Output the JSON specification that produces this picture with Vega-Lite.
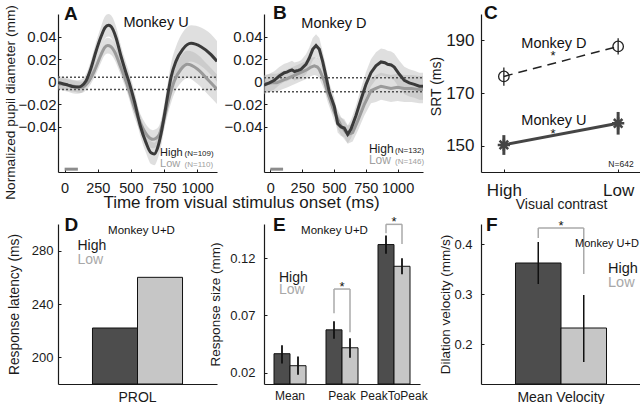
{
  "$schema": "https://vega.github.io/schema/vega-lite/v6.json",
  "background": "white",
  "padding": {"left": 3, "top": 3, "right": 0, "bottom": 0},
  "config": {
    "font": "Liberation Sans",
    "view": {"stroke": null},
    "axis": {"grid": false, "domainColor": "#1a1a1a", "domainWidth": 1.2, "tickColor": "#1a1a1a", "tickSize": -3, "labelColor": "#1a1a1a", "titleColor": "#1a1a1a", "titleFontWeight": "normal", "labelFlush": false, "labelOverlap": false}
  },
  "resolve": {"scale": {"xOffset": "independent", "x": "independent", "y": "independent", "color": "independent"}},
  "datasets": {
    "pupilA": [
      {"cond":"High","t":-50,"v":-0.001,"lo":-0.007,"hi":0.005},
      {"cond":"High","t":-20,"v":-0.0015,"lo":-0.0075,"hi":0.0045},
      {"cond":"High","t":25,"v":-0.003,"lo":-0.009,"hi":0.003},
      {"cond":"High","t":70,"v":-0.0045,"lo":-0.0105,"hi":0.0015},
      {"cond":"High","t":100,"v":-0.0047,"lo":-0.0107,"hi":0.0013},
      {"cond":"High","t":124,"v":-0.004,"lo":-0.010,"hi":0.002},
      {"cond":"High","t":161,"v":0.0006,"lo":-0.0054,"hi":0.0066},
      {"cond":"High","t":199,"v":0.012,"lo":0.005,"hi":0.019},
      {"cond":"High","t":237,"v":0.027,"lo":0.019,"hi":0.035},
      {"cond":"High","t":275,"v":0.040,"lo":0.031,"hi":0.049},
      {"cond":"High","t":305,"v":0.048,"lo":0.038,"hi":0.058},
      {"cond":"High","t":330,"v":0.050,"lo":0.040,"hi":0.060},
      {"cond":"High","t":350,"v":0.049,"lo":0.039,"hi":0.059},
      {"cond":"High","t":388,"v":0.039,"lo":0.029,"hi":0.049},
      {"cond":"High","t":425,"v":0.0228,"lo":0.0138,"hi":0.0318},
      {"cond":"High","t":463,"v":0.008,"lo":-0.001,"hi":0.017},
      {"cond":"High","t":488,"v":-0.001,"lo":-0.010,"hi":0.008},
      {"cond":"High","t":526,"v":-0.017,"lo":-0.026,"hi":-0.008},
      {"cond":"High","t":571,"v":-0.039,"lo":-0.048,"hi":-0.030},
      {"cond":"High","t":614,"v":-0.054,"lo":-0.063,"hi":-0.045},
      {"cond":"High","t":652,"v":-0.063,"lo":-0.073,"hi":-0.053},
      {"cond":"High","t":677,"v":-0.064,"lo":-0.074,"hi":-0.054},
      {"cond":"High","t":702,"v":-0.0585,"lo":-0.0685,"hi":-0.0485},
      {"cond":"High","t":727,"v":-0.0466,"lo":-0.0576,"hi":-0.0356},
      {"cond":"High","t":752,"v":-0.0304,"lo":-0.0414,"hi":-0.0194},
      {"cond":"High","t":777,"v":-0.0127,"lo":-0.0237,"hi":-0.0017},
      {"cond":"High","t":803,"v":0.004,"lo":-0.008,"hi":0.016},
      {"cond":"High","t":840,"v":0.018,"lo":0.005,"hi":0.031},
      {"cond":"High","t":891,"v":0.0287,"lo":0.0137,"hi":0.0437},
      {"cond":"High","t":954,"v":0.034,"lo":0.018,"hi":0.050},
      {"cond":"High","t":1029,"v":0.031,"lo":0.014,"hi":0.048},
      {"cond":"High","t":1105,"v":0.024,"lo":0.006,"hi":0.042},
      {"cond":"High","t":1150,"v":0.018,"lo":0.000,"hi":0.036},
      {"cond":"Low","t":-50,"v":-0.002,"lo":-0.007,"hi":0.003},
      {"cond":"Low","t":-20,"v":-0.002,"lo":-0.007,"hi":0.003},
      {"cond":"Low","t":25,"v":-0.003,"lo":-0.008,"hi":0.002},
      {"cond":"Low","t":70,"v":-0.004,"lo":-0.009,"hi":0.001},
      {"cond":"Low","t":124,"v":-0.005,"lo":-0.010,"hi":0.000},
      {"cond":"Low","t":174,"v":-0.001,"lo":-0.006,"hi":0.004},
      {"cond":"Low","t":224,"v":0.0095,"lo":0.0035,"hi":0.0155},
      {"cond":"Low","t":275,"v":0.024,"lo":0.017,"hi":0.031},
      {"cond":"Low","t":300,"v":0.030,"lo":0.023,"hi":0.037},
      {"cond":"Low","t":325,"v":0.032,"lo":0.025,"hi":0.039},
      {"cond":"Low","t":350,"v":0.031,"lo":0.024,"hi":0.038},
      {"cond":"Low","t":375,"v":0.027,"lo":0.020,"hi":0.034},
      {"cond":"Low","t":425,"v":0.0124,"lo":0.0054,"hi":0.0194},
      {"cond":"Low","t":476,"v":-0.004,"lo":-0.011,"hi":0.003},
      {"cond":"Low","t":526,"v":-0.023,"lo":-0.031,"hi":-0.015},
      {"cond":"Low","t":576,"v":-0.0378,"lo":-0.0458,"hi":-0.0298},
      {"cond":"Low","t":627,"v":-0.048,"lo":-0.056,"hi":-0.040},
      {"cond":"Low","t":665,"v":-0.051,"lo":-0.059,"hi":-0.043},
      {"cond":"Low","t":690,"v":-0.050,"lo":-0.058,"hi":-0.042},
      {"cond":"Low","t":715,"v":-0.0466,"lo":-0.0546,"hi":-0.0386},
      {"cond":"Low","t":752,"v":-0.032,"lo":-0.041,"hi":-0.023},
      {"cond":"Low","t":790,"v":-0.014,"lo":-0.024,"hi":-0.004},
      {"cond":"Low","t":828,"v":0.0006,"lo":-0.0104,"hi":0.0116},
      {"cond":"Low","t":878,"v":0.011,"lo":-0.001,"hi":0.023},
      {"cond":"Low","t":928,"v":0.0154,"lo":0.0034,"hi":0.0274},
      {"cond":"Low","t":1004,"v":0.011,"lo":-0.002,"hi":0.024},
      {"cond":"Low","t":1080,"v":0.002,"lo":-0.011,"hi":0.015},
      {"cond":"Low","t":1150,"v":-0.0067,"lo":-0.0197,"hi":0.0063}
    ],
    "pupilB": [
      {"cond":"High","t":-50,"v":-0.003,"lo":-0.011,"hi":0.005},
      {"cond":"High","t":-8,"v":-0.001,"lo":-0.009,"hi":0.007},
      {"cond":"High","t":31,"v":0.0012,"lo":-0.0068,"hi":0.0092},
      {"cond":"High","t":70,"v":0.005,"lo":-0.003,"hi":0.013},
      {"cond":"High","t":110,"v":0.008,"lo":0.000,"hi":0.016},
      {"cond":"High","t":130,"v":0.0085,"lo":0.0005,"hi":0.0165},
      {"cond":"High","t":149,"v":0.0095,"lo":0.0015,"hi":0.0175},
      {"cond":"High","t":170,"v":0.0105,"lo":0.0025,"hi":0.0185},
      {"cond":"High","t":190,"v":0.009,"lo":0.001,"hi":0.017},
      {"cond":"High","t":202,"v":0.0095,"lo":0.0015,"hi":0.0175},
      {"cond":"High","t":220,"v":0.010,"lo":0.002,"hi":0.018},
      {"cond":"High","t":241,"v":0.011,"lo":0.003,"hi":0.019},
      {"cond":"High","t":280,"v":0.0154,"lo":0.0064,"hi":0.0244},
      {"cond":"High","t":306,"v":0.021,"lo":0.012,"hi":0.030},
      {"cond":"High","t":333,"v":0.0287,"lo":0.0187,"hi":0.0387},
      {"cond":"High","t":359,"v":0.032,"lo":0.022,"hi":0.042},
      {"cond":"High","t":385,"v":0.0287,"lo":0.0187,"hi":0.0387},
      {"cond":"High","t":411,"v":0.018,"lo":0.009,"hi":0.027},
      {"cond":"High","t":437,"v":0.005,"lo":-0.004,"hi":0.014},
      {"cond":"High","t":463,"v":-0.009,"lo":-0.017,"hi":-0.001},
      {"cond":"High","t":503,"v":-0.022,"lo":-0.030,"hi":-0.014},
      {"cond":"High","t":529,"v":-0.037,"lo":-0.045,"hi":-0.029},
      {"cond":"High","t":555,"v":-0.040,"lo":-0.048,"hi":-0.032},
      {"cond":"High","t":581,"v":-0.041,"lo":-0.049,"hi":-0.033},
      {"cond":"High","t":608,"v":-0.0466,"lo":-0.0546,"hi":-0.0386},
      {"cond":"High","t":634,"v":-0.042,"lo":-0.050,"hi":-0.034},
      {"cond":"High","t":673,"v":-0.030,"lo":-0.039,"hi":-0.021},
      {"cond":"High","t":713,"v":-0.0156,"lo":-0.0256,"hi":-0.0056},
      {"cond":"High","t":752,"v":-0.0023,"lo":-0.0133,"hi":0.0087},
      {"cond":"High","t":791,"v":0.008,"lo":-0.004,"hi":0.020},
      {"cond":"High","t":830,"v":0.014,"lo":0.002,"hi":0.026},
      {"cond":"High","t":870,"v":0.0175,"lo":0.0055,"hi":0.0295},
      {"cond":"High","t":900,"v":0.0168,"lo":0.0048,"hi":0.0288},
      {"cond":"High","t":922,"v":0.0154,"lo":0.0034,"hi":0.0274},
      {"cond":"High","t":950,"v":0.0148,"lo":0.0028,"hi":0.0268},
      {"cond":"High","t":974,"v":0.013,"lo":0.001,"hi":0.025},
      {"cond":"High","t":1014,"v":0.0066,"lo":-0.0054,"hi":0.0186},
      {"cond":"High","t":1053,"v":0.0012,"lo":-0.0108,"hi":0.0132},
      {"cond":"High","t":1092,"v":-0.001,"lo":-0.013,"hi":0.011},
      {"cond":"High","t":1132,"v":-0.0023,"lo":-0.0143,"hi":0.0097},
      {"cond":"High","t":1171,"v":-0.004,"lo":-0.016,"hi":0.008},
      {"cond":"High","t":1200,"v":-0.004,"lo":-0.016,"hi":0.008},
      {"cond":"Low","t":-50,"v":-0.002,"lo":-0.010,"hi":0.006},
      {"cond":"Low","t":10,"v":-0.001,"lo":-0.009,"hi":0.007},
      {"cond":"Low","t":50,"v":-0.001,"lo":-0.009,"hi":0.007},
      {"cond":"Low","t":90,"v":0.001,"lo":-0.007,"hi":0.009},
      {"cond":"Low","t":136,"v":0.003,"lo":-0.005,"hi":0.011},
      {"cond":"Low","t":175,"v":0.005,"lo":-0.003,"hi":0.013},
      {"cond":"Low","t":215,"v":0.007,"lo":-0.001,"hi":0.015},
      {"cond":"Low","t":255,"v":0.009,"lo":0.001,"hi":0.017},
      {"cond":"Low","t":294,"v":0.011,"lo":0.003,"hi":0.019},
      {"cond":"Low","t":320,"v":0.013,"lo":0.005,"hi":0.021},
      {"cond":"Low","t":346,"v":0.014,"lo":0.006,"hi":0.022},
      {"cond":"Low","t":370,"v":0.013,"lo":0.005,"hi":0.021},
      {"cond":"Low","t":385,"v":0.011,"lo":0.003,"hi":0.019},
      {"cond":"Low","t":424,"v":0.0006,"lo":-0.0074,"hi":0.0086},
      {"cond":"Low","t":450,"v":-0.0097,"lo":-0.0177,"hi":-0.0017},
      {"cond":"Low","t":503,"v":-0.027,"lo":-0.035,"hi":-0.019},
      {"cond":"Low","t":555,"v":-0.039,"lo":-0.047,"hi":-0.031},
      {"cond":"Low","t":608,"v":-0.047,"lo":-0.055,"hi":-0.039},
      {"cond":"Low","t":647,"v":-0.045,"lo":-0.053,"hi":-0.037},
      {"cond":"Low","t":686,"v":-0.035,"lo":-0.044,"hi":-0.026},
      {"cond":"Low","t":739,"v":-0.020,"lo":-0.030,"hi":-0.010},
      {"cond":"Low","t":791,"v":-0.008,"lo":-0.019,"hi":0.003},
      {"cond":"Low","t":830,"v":-0.006,"lo":-0.018,"hi":0.006},
      {"cond":"Low","t":870,"v":-0.004,"lo":-0.016,"hi":0.008},
      {"cond":"Low","t":948,"v":-0.006,"lo":-0.018,"hi":0.006},
      {"cond":"Low","t":1000,"v":-0.005,"lo":-0.017,"hi":0.007},
      {"cond":"Low","t":1053,"v":-0.006,"lo":-0.018,"hi":0.006},
      {"cond":"Low","t":1110,"v":-0.006,"lo":-0.018,"hi":0.006},
      {"cond":"Low","t":1171,"v":-0.007,"lo":-0.019,"hi":0.005},
      {"cond":"Low","t":1200,"v":-0.007,"lo":-0.019,"hi":0.005}
    ],
    "srt": [
      {"monkey":"D","contrast":"High","srt":176.3,"lo":172.8,"hi":179.7},
      {"monkey":"D","contrast":"Low","srt":187.7,"lo":184.6,"hi":190.8},
      {"monkey":"U","contrast":"High","srt":150.3,"lo":146.5,"hi":154.0},
      {"monkey":"U","contrast":"Low","srt":158.5,"lo":154.2,"hi":162.8}
    ],
    "latency": [
      {"metric":"PROL","contrast":"High","value":222},
      {"metric":"PROL","contrast":"Low","value":260}
    ],
    "size": [
      {"metric":"Mean","contrast":"High","value":0.0365,"lo":0.028,"hi":0.044},
      {"metric":"Mean","contrast":"Low","value":0.026,"lo":0.018,"hi":0.034},
      {"metric":"Peak","contrast":"High","value":0.0574,"lo":0.0496,"hi":0.065},
      {"metric":"Peak","contrast":"Low","value":0.0417,"lo":0.033,"hi":0.050},
      {"metric":"PeakToPeak","contrast":"High","value":0.132,"lo":0.124,"hi":0.140},
      {"metric":"PeakToPeak","contrast":"Low","value":0.113,"lo":0.106,"hi":0.120}
    ],
    "sizeLegs": [
      {"metric":"Peak","contrast":"High","y1":0.072,"y2":0.0931},
      {"metric":"Peak","contrast":"Low","y1":0.0553,"y2":0.0931},
      {"metric":"PeakToPeak","contrast":"High","y1":0.142,"y2":0.1497},
      {"metric":"PeakToPeak","contrast":"Low","y1":0.1325,"y2":0.1497}
    ],
    "sizeTops": [
      {"metric":"Peak","y":0.0931,"star":0.0914},
      {"metric":"PeakToPeak","y":0.1497,"star":0.148}
    ],
    "velocity": [
      {"metric":"Mean Velocity","contrast":"High","value":0.362,"lo":0.320,"hi":0.404},
      {"metric":"Mean Velocity","contrast":"Low","value":0.232,"lo":0.164,"hi":0.298}
    ],
    "velLegs": [
      {"metric":"Mean Velocity","contrast":"High","y1":0.412,"y2":0.432},
      {"metric":"Mean Velocity","contrast":"Low","y1":0.340,"y2":0.432}
    ],
    "velTops": [
      {"metric":"Mean Velocity","y":0.432,"star":0.428}
    ]
  },
  "columns": 3,
  "bounds": "flush",
  "spacing": {"row": 52, "column": 47},
  "concat": [
    {
      "width": 159, "height": 158,
      "layer": [
        {"data": {"name": "pupilA"}, "mark": {"type": "area", "interpolate": "monotone", "fill": "#b0b0b0", "opacity": 0.4, "clip": true},
         "encoding": {
           "x": {"field": "t", "type": "quantitative", "scale": {"domain": [-50, 1150], "nice": false, "zero": false},
                 "axis": {"values": [0, 250, 500, 750, 1000], "format": "d", "title": "Time from visual stimulus onset (ms)", "titleFontSize": 17, "titleX": 183, "titleY": 35, "titleBaseline": "alphabetic", "titleAlign": "center", "labelFontSize": 14.5, "labelPadding": 12}},
           "y": {"field": "lo", "type": "quantitative", "scale": {"domain": [-0.08, 0.06], "nice": false, "zero": false},
                 "axis": {"values": [-0.04, -0.02, 0, 0.02, 0.04], "format": "~g", "title": "Normalized pupil diameter (mm)", "titleFontSize": 13.7, "titleY": 88, "titlePadding": 1, "labelFontSize": 15, "labelPadding": 5}},
           "y2": {"field": "hi"},
           "detail": {"field": "cond"}
         }},
        {"data": {"values": [{"level": 0.004}, {"level": -0.007}]}, "mark": {"type": "rule", "strokeDash": [2, 2], "color": "#505050", "strokeWidth": 1.5},
         "encoding": {
           "y": {"field": "level", "type": "quantitative", "axis": {"values": [-0.04, -0.02, 0, 0.02, 0.04], "format": "~g", "title": "Normalized pupil diameter (mm)", "titleFontSize": 13.7, "titleY": 88, "titlePadding": 1, "labelFontSize": 15, "labelPadding": 5}},
           "x": {"datum": -50, "axis": {"values": [0, 250, 500, 750, 1000], "format": "d", "title": "Time from visual stimulus onset (ms)", "titleFontSize": 17, "titleX": 183, "titleY": 35, "titleBaseline": "alphabetic", "titleAlign": "center", "labelFontSize": 14.5, "labelPadding": 12}},
           "x2": {"datum": 1150}}},
        {"data": {"values": [{"start": 0, "end": 100}]}, "mark": {"type": "rule", "color": "#8c8c8c", "strokeWidth": 3},
         "encoding": {
           "x": {"field": "start", "type": "quantitative", "axis": {"values": [0, 250, 500, 750, 1000], "format": "d", "title": "Time from visual stimulus onset (ms)", "titleFontSize": 17, "titleX": 183, "titleY": 35, "titleBaseline": "alphabetic", "titleAlign": "center", "labelFontSize": 14.5, "labelPadding": 12}},
           "x2": {"field": "end"},
           "y": {"datum": -0.0775, "axis": {"values": [-0.04, -0.02, 0, 0.02, 0.04], "format": "~g", "title": "Normalized pupil diameter (mm)", "titleFontSize": 13.7, "titleY": 88, "titlePadding": 1, "labelFontSize": 15, "labelPadding": 5}}}},
        {"data": {"name": "pupilA"}, "transform": [{"filter": "datum.cond === 'Low'"}], "mark": {"type": "line", "interpolate": "monotone", "color": "#9a9a9a", "strokeWidth": 3, "clip": true},
         "encoding": {
           "x": {"field": "t", "type": "quantitative", "axis": {"values": [0, 250, 500, 750, 1000], "format": "d", "title": "Time from visual stimulus onset (ms)", "titleFontSize": 17, "titleX": 183, "titleY": 35, "titleBaseline": "alphabetic", "titleAlign": "center", "labelFontSize": 14.5, "labelPadding": 12}},
           "y": {"field": "v", "type": "quantitative", "axis": {"values": [-0.04, -0.02, 0, 0.02, 0.04], "format": "~g", "title": "Normalized pupil diameter (mm)", "titleFontSize": 13.7, "titleY": 88, "titlePadding": 1, "labelFontSize": 15, "labelPadding": 5}}}},
        {"data": {"name": "pupilA"}, "transform": [{"filter": "datum.cond === 'High'"}], "mark": {"type": "line", "interpolate": "monotone", "color": "#3a3a3a", "strokeWidth": 3, "clip": true},
         "encoding": {
           "x": {"field": "t", "type": "quantitative", "axis": {"values": [0, 250, 500, 750, 1000], "format": "d", "title": "Time from visual stimulus onset (ms)", "titleFontSize": 17, "titleX": 183, "titleY": 35, "titleBaseline": "alphabetic", "titleAlign": "center", "labelFontSize": 14.5, "labelPadding": 12}},
           "y": {"field": "v", "type": "quantitative", "axis": {"values": [-0.04, -0.02, 0, 0.02, 0.04], "format": "~g", "title": "Normalized pupil diameter (mm)", "titleFontSize": 13.7, "titleY": 88, "titlePadding": 1, "labelFontSize": 15, "labelPadding": 5}}}},
        {"data": {"values": [
            {"label": "A", "t": -5, "v": 0.0547}
          ]},
         "mark": {"type": "text", "fontSize": 19, "fontWeight": "bold", "align": "left", "baseline": "alphabetic", "color": "#111"},
         "encoding": {
           "x": {"field": "t", "type": "quantitative", "axis": {"values": [0, 250, 500, 750, 1000], "format": "d", "title": "Time from visual stimulus onset (ms)", "titleFontSize": 17, "titleX": 183, "titleY": 35, "titleBaseline": "alphabetic", "titleAlign": "center", "labelFontSize": 14.5, "labelPadding": 12}},
           "y": {"field": "v", "type": "quantitative", "axis": {"values": [-0.04, -0.02, 0, 0.02, 0.04], "format": "~g", "title": "Normalized pupil diameter (mm)", "titleFontSize": 13.7, "titleY": 88, "titlePadding": 1, "labelFontSize": 15, "labelPadding": 5}},
           "text": {"field": "label"}}},
        {"data": {"values": [
            {"label": "Monkey U", "t": 690, "v": 0.0485, "fs": 14.5, "al": "center", "col": "#111"},
            {"label": "High", "t": 720, "v": -0.0658, "fs": 11, "al": "left", "col": "#1a1a1a"},
            {"label": "(N=109)", "t": 905, "v": -0.0658, "fs": 8, "al": "left", "col": "#1a1a1a"},
            {"label": "Low", "t": 720, "v": -0.0756, "fs": 11, "al": "left", "col": "#a0a0a0"},
            {"label": "(N=110)", "t": 905, "v": -0.0756, "fs": 8, "al": "left", "col": "#a0a0a0"}
          ]},
         "mark": {"type": "text", "baseline": "alphabetic", "align": {"expr": "datum.al"}, "fontSize": {"expr": "datum.fs"}, "fill": {"expr": "datum.col"}},
         "encoding": {
           "x": {"field": "t", "type": "quantitative", "axis": {"values": [0, 250, 500, 750, 1000], "format": "d", "title": "Time from visual stimulus onset (ms)", "titleFontSize": 17, "titleX": 183, "titleY": 35, "titleBaseline": "alphabetic", "titleAlign": "center", "labelFontSize": 14.5, "labelPadding": 12}},
           "y": {"field": "v", "type": "quantitative", "axis": {"values": [-0.04, -0.02, 0, 0.02, 0.04], "format": "~g", "title": "Normalized pupil diameter (mm)", "titleFontSize": 13.7, "titleY": 88, "titlePadding": 1, "labelFontSize": 15, "labelPadding": 5}},
           "text": {"field": "label"}}}
      ]
    },
    {
      "width": 170, "height": 158,
      "layer": [
        {"data": {"name": "pupilB"}, "mark": {"type": "area", "fill": "#b0b0b0", "opacity": 0.4, "clip": true},
         "encoding": {
           "x": {"field": "t", "type": "quantitative", "scale": {"domain": [-50, 1200], "nice": false, "zero": false, "range": [0, 159]},
                 "axis": {"values": [0, 250, 500, 750, 1000], "format": "d", "title": null, "labelFontSize": 14.5, "labelPadding": 12}},
           "y": {"field": "lo", "type": "quantitative", "scale": {"domain": [-0.08, 0.06], "nice": false, "zero": false},
                 "axis": {"values": [-0.04, -0.02, 0, 0.02, 0.04], "format": "~g", "title": null, "labelFontSize": 15, "labelPadding": 5}},
           "y2": {"field": "hi"},
           "detail": {"field": "cond"}
         }},
        {"data": {"values": [{"level": 0.0035}, {"level": -0.009}]}, "mark": {"type": "rule", "strokeDash": [2, 2], "color": "#505050", "strokeWidth": 1.5},
         "encoding": {
           "y": {"field": "level", "type": "quantitative", "axis": {"values": [-0.04, -0.02, 0, 0.02, 0.04], "format": "~g", "title": null, "labelFontSize": 15, "labelPadding": 5}},
           "x": {"datum": -50, "axis": {"values": [0, 250, 500, 750, 1000], "format": "d", "title": null, "labelFontSize": 14.5, "labelPadding": 12}},
           "x2": {"datum": 1200}}},
        {"data": {"values": [{"start": 0, "end": 100}]}, "mark": {"type": "rule", "color": "#8c8c8c", "strokeWidth": 3},
         "encoding": {
           "x": {"field": "start", "type": "quantitative", "axis": {"values": [0, 250, 500, 750, 1000], "format": "d", "title": null, "labelFontSize": 14.5, "labelPadding": 12}},
           "x2": {"field": "end"},
           "y": {"datum": -0.0775, "axis": {"values": [-0.04, -0.02, 0, 0.02, 0.04], "format": "~g", "title": null, "labelFontSize": 15, "labelPadding": 5}}}},
        {"data": {"name": "pupilB"}, "transform": [{"filter": "datum.cond === 'Low'"}], "mark": {"type": "line", "color": "#9a9a9a", "strokeWidth": 3, "clip": true},
         "encoding": {
           "x": {"field": "t", "type": "quantitative", "axis": {"values": [0, 250, 500, 750, 1000], "format": "d", "title": null, "labelFontSize": 14.5, "labelPadding": 12}},
           "y": {"field": "v", "type": "quantitative", "axis": {"values": [-0.04, -0.02, 0, 0.02, 0.04], "format": "~g", "title": null, "labelFontSize": 15, "labelPadding": 5}}}},
        {"data": {"name": "pupilB"}, "transform": [{"filter": "datum.cond === 'High'"}], "mark": {"type": "line", "color": "#3a3a3a", "strokeWidth": 3, "clip": true},
         "encoding": {
           "x": {"field": "t", "type": "quantitative", "axis": {"values": [0, 250, 500, 750, 1000], "format": "d", "title": null, "labelFontSize": 14.5, "labelPadding": 12}},
           "y": {"field": "v", "type": "quantitative", "axis": {"values": [-0.04, -0.02, 0, 0.02, 0.04], "format": "~g", "title": null, "labelFontSize": 15, "labelPadding": 5}}}},
        {"data": {"values": [
            {"label": "B", "t": 21, "v": 0.0556}
          ]},
         "mark": {"type": "text", "fontSize": 19, "fontWeight": "bold", "align": "left", "baseline": "alphabetic", "color": "#111"},
         "encoding": {
           "x": {"field": "t", "type": "quantitative", "axis": {"values": [0, 250, 500, 750, 1000], "format": "d", "title": null, "labelFontSize": 14.5, "labelPadding": 12}},
           "y": {"field": "v", "type": "quantitative", "axis": {"values": [-0.04, -0.02, 0, 0.02, 0.04], "format": "~g", "title": null, "labelFontSize": 15, "labelPadding": 5}},
           "text": {"field": "label"}}},
        {"data": {"values": [
            {"label": "Monkey D", "t": 500, "v": 0.0476, "fs": 14.5, "al": "center", "col": "#111"},
            {"label": "High", "t": 775, "v": -0.0632, "fs": 12, "al": "left", "col": "#1a1a1a"},
            {"label": "(N=132)", "t": 980, "v": -0.0632, "fs": 8, "al": "left", "col": "#1a1a1a"},
            {"label": "Low", "t": 775, "v": -0.0729, "fs": 12, "al": "left", "col": "#a0a0a0"},
            {"label": "(N=146)", "t": 980, "v": -0.0729, "fs": 8, "al": "left", "col": "#a0a0a0"}
          ]},
         "mark": {"type": "text", "baseline": "alphabetic", "align": {"expr": "datum.al"}, "fontSize": {"expr": "datum.fs"}, "fill": {"expr": "datum.col"}},
         "encoding": {
           "x": {"field": "t", "type": "quantitative", "axis": {"values": [0, 250, 500, 750, 1000], "format": "d", "title": null, "labelFontSize": 14.5, "labelPadding": 12}},
           "y": {"field": "v", "type": "quantitative", "axis": {"values": [-0.04, -0.02, 0, 0.02, 0.04], "format": "~g", "title": null, "labelFontSize": 15, "labelPadding": 5}},
           "text": {"field": "label"}}}
      ]
    },
    {
      "width": 160, "height": 158,
      "resolve": {"scale": {"x": "independent"}},
      "layer": [
        {
          "data": {"name": "srt"},
          "encoding": {
            "x": {"field": "contrast", "type": "nominal", "scale": {"type": "point", "padding": 0.2},
                  "axis": {"labelAngle": 0, "labelFontSize": 17, "labelPadding": 13, "title": "Visual contrast", "titleFontSize": 14, "titlePadding": -1}},
            "y": {"field": "srt", "type": "quantitative", "scale": {"domain": [140, 200], "nice": false, "zero": false},
                  "axis": {"values": [150, 170, 190], "labelFontSize": 17, "labelPadding": 10, "title": "SRT (ms)", "titleFontSize": 14, "titlePadding": 2, "titleY": 72}}
          },
          "layer": [
            {"transform": [{"filter": "datum.monkey === 'D'"}], "mark": {"type": "line", "color": "#222", "strokeWidth": 1.5, "strokeDash": [9, 6]}},
            {"transform": [{"filter": "datum.monkey === 'U'"}], "mark": {"type": "line", "color": "#454545", "strokeWidth": 3}},
            {"transform": [{"filter": "datum.monkey === 'D'"}], "mark": {"type": "rule", "color": "#222", "strokeWidth": 1.3}, "encoding": {"y": {"field": "lo", "type": "quantitative"}, "y2": {"field": "hi"}}},
            {"transform": [{"filter": "datum.monkey === 'U'"}], "mark": {"type": "rule", "color": "#454545", "strokeWidth": 3}, "encoding": {"y": {"field": "lo", "type": "quantitative"}, "y2": {"field": "hi"}}},
            {"transform": [{"filter": "datum.monkey === 'D'"}], "mark": {"type": "point", "shape": "circle", "size": 110, "filled": false, "color": "#222", "strokeWidth": 1.3, "opacity": 1}},
            {"transform": [{"filter": "datum.monkey === 'U'"}], "mark": {"type": "point", "shape": "M-1,0L1,0M0,-1L0,1M-0.7,-0.7L0.7,0.7M-0.7,0.7L0.7,-0.7", "size": 150, "filled": false, "color": "#454545", "strokeWidth": 2.5, "opacity": 1}}
          ]
        },
        {
          "data": {"values": [{}]},
          "encoding": {"x": {"datum": 0.5, "type": "quantitative", "scale": {"domain": [0, 1]}, "axis": null}},
          "layer": [
            {"mark": {"type": "text", "text": "C", "fontSize": 19, "fontWeight": "bold", "align": "left", "baseline": "alphabetic", "color": "#111"}, "encoding": {"x": {"datum": 0.019, "type": "quantitative"}, "y": {"datum": 198.1}}},
            {"mark": {"type": "text", "text": "Monkey D", "fontSize": 14.5, "align": "center", "baseline": "alphabetic", "color": "#111"}, "encoding": {"x": {"datum": 0.456, "type": "quantitative"}, "y": {"datum": 187.0}}},
            {"mark": {"type": "text", "text": "*", "fontSize": 13, "align": "center", "baseline": "alphabetic", "color": "#111"}, "encoding": {"x": {"datum": 0.45, "type": "quantitative"}, "y": {"datum": 182.4}}},
            {"mark": {"type": "text", "text": "Monkey U", "fontSize": 14.5, "align": "center", "baseline": "alphabetic", "color": "#111"}, "encoding": {"x": {"datum": 0.456, "type": "quantitative"}, "y": {"datum": 157.9}}},
            {"mark": {"type": "text", "text": "*", "fontSize": 13, "align": "center", "baseline": "alphabetic", "color": "#111"}, "encoding": {"x": {"datum": 0.45, "type": "quantitative"}, "y": {"datum": 153.0}}},
            {"mark": {"type": "text", "text": "N=642", "fontSize": 8.5, "align": "center", "baseline": "alphabetic", "color": "#222"}, "encoding": {"x": {"datum": 0.875, "type": "quantitative"}, "y": {"datum": 141.9}}}
          ]
        }
      ]
    },
    {
      "width": 159, "height": 160,
      "layer": [
        {
          "data": {"name": "latency"},
          "mark": {"type": "bar", "stroke": "#111", "strokeWidth": 1},
          "encoding": {
            "x": {"field": "metric", "type": "nominal", "scale": {"paddingInner": 0, "paddingOuter": 0.383},
                  "axis": {"labelAngle": 0, "labelFontSize": 14, "labelPadding": 6, "title": null, "ticks": false}},
            "xOffset": {"field": "contrast", "type": "nominal", "scale": {"domain": ["High", "Low"], "paddingInner": 0, "paddingOuter": 0}},
            "y": {"field": "value", "type": "quantitative", "scale": {"domain": [180, 300], "nice": false, "zero": false},
                  "axis": {"values": [200, 240, 280], "labelFontSize": 13, "labelPadding": 8, "title": "Response latency (ms)", "titleFontSize": 13.8, "titlePadding": 10}},
            "y2": {"datum": 180},
            "color": {"field": "contrast", "type": "nominal", "scale": {"domain": ["High", "Low"], "range": ["#4d4d4d", "#c6c6c6"]}, "legend": null}
          }
        },
        {"data": {"values": [{}]}, "mark": {"type": "text", "text": "D", "fontSize": 19, "fontWeight": "bold", "align": "left", "baseline": "alphabetic", "color": "#111", "dx": -73},
         "encoding": {"x": {"datum": "PROL"}, "y": {"datum": 294.7}}},
        {"data": {"values": [{}]}, "mark": {"type": "text", "text": "Monkey U+D", "fontSize": 11.5, "align": "center", "baseline": "alphabetic", "color": "#111", "dx": 4},
         "encoding": {"x": {"datum": "PROL"}, "y": {"datum": 292.5}}},
        {"data": {"values": [{}]}, "mark": {"type": "text", "text": "High", "fontSize": 14, "align": "left", "baseline": "alphabetic", "color": "#1a1a1a", "dx": -60},
         "encoding": {"x": {"datum": "PROL"}, "y": {"datum": 280.5}}},
        {"data": {"values": [{}]}, "mark": {"type": "text", "text": "Low", "fontSize": 14, "align": "left", "baseline": "alphabetic", "color": "#a8a8a8", "dx": -60},
         "encoding": {"x": {"datum": "PROL"}, "y": {"datum": 270}}}
      ]
    },
    {
      "width": 156, "height": 160,
      "layer": [
        {"data": {"name": "size"}, "mark": {"type": "bar", "stroke": "#111", "strokeWidth": 1},
         "encoding": {
           "x": {"field": "metric", "type": "nominal", "scale": {"domain": ["Mean", "Peak", "PeakToPeak"], "paddingInner": 0, "paddingOuter": 0},
                 "axis": {"labelAngle": 0, "labelFontSize": 12, "labelPadding": 6, "title": null, "ticks": false}},
           "xOffset": {"field": "contrast", "type": "nominal", "scale": {"domain": ["High", "Low"], "paddingInner": 0, "paddingOuter": 0.625}},
           "y": {"field": "value", "type": "quantitative", "scale": {"domain": [0.01, 0.15], "nice": false, "zero": false},
                 "axis": {"values": [0.02, 0.07, 0.12], "format": ".2f", "labelFontSize": 13, "labelPadding": 12, "title": "Response size (mm)", "titleFontSize": 13.5, "titlePadding": 7}},
           "y2": {"datum": 0.01},
           "color": {"field": "contrast", "type": "nominal", "scale": {"domain": ["High", "Low"], "range": ["#4d4d4d", "#c6c6c6"]}, "legend": null}
         }},
        {"data": {"name": "size"}, "mark": {"type": "rule", "color": "#111", "strokeWidth": 1.8},
         "encoding": {"x": {"field": "metric", "type": "nominal"}, "xOffset": {"field": "contrast", "type": "nominal"}, "y": {"field": "lo", "type": "quantitative"}, "y2": {"field": "hi"}}},
        {"data": {"name": "sizeLegs"}, "mark": {"type": "rule", "color": "#aaaaaa", "strokeWidth": 1.5},
         "encoding": {"x": {"field": "metric", "type": "nominal"}, "xOffset": {"field": "contrast", "type": "nominal"}, "y": {"field": "y1", "type": "quantitative"}, "y2": {"field": "y2"}}},
        {"data": {"name": "sizeTops"}, "mark": {"type": "tick", "orient": "horizontal", "color": "#aaaaaa", "thickness": 1.5, "size": 16, "opacity": 1},
         "encoding": {"x": {"field": "metric", "type": "nominal"}, "y": {"field": "y", "type": "quantitative"}}},
        {"data": {"name": "sizeTops"}, "mark": {"type": "text", "text": "*", "fontSize": 13, "color": "#111", "baseline": "alphabetic", "align": "center"},
         "encoding": {"x": {"field": "metric", "type": "nominal"}, "y": {"field": "star", "type": "quantitative"}}},
        {"data": {"values": [{}]}, "mark": {"type": "text", "text": "E", "fontSize": 19, "fontWeight": "bold", "align": "left", "baseline": "alphabetic", "color": "#111", "dx": -17},
         "encoding": {"x": {"datum": "Mean"}, "y": {"datum": 0.1439}}},
        {"data": {"values": [{}]}, "mark": {"type": "text", "text": "Monkey U+D", "fontSize": 11.5, "align": "center", "baseline": "alphabetic", "color": "#111", "dx": -7.5},
         "encoding": {"x": {"datum": "Peak"}, "y": {"datum": 0.1413}}},
        {"data": {"values": [{}]}, "mark": {"type": "text", "text": "High", "fontSize": 14, "align": "left", "baseline": "alphabetic", "color": "#1a1a1a", "dx": -11},
         "encoding": {"x": {"datum": "Mean"}, "y": {"datum": 0.0993}}},
        {"data": {"values": [{}]}, "mark": {"type": "text", "text": "Low", "fontSize": 14, "align": "left", "baseline": "alphabetic", "color": "#a8a8a8", "dx": -11},
         "encoding": {"x": {"datum": "Mean"}, "y": {"datum": 0.0887}}}
      ]
    },
    {
      "width": 160, "height": 160,
      "layer": [
        {"data": {"name": "velocity"}, "mark": {"type": "bar", "stroke": "#111", "strokeWidth": 1},
         "encoding": {
           "x": {"field": "metric", "type": "nominal", "scale": {"paddingInner": 0, "paddingOuter": 0.379},
                 "axis": {"labelAngle": 0, "labelFontSize": 14, "labelPadding": 6, "title": null, "ticks": false}},
           "xOffset": {"field": "contrast", "type": "nominal", "scale": {"domain": ["High", "Low"], "paddingInner": 0, "paddingOuter": 0}},
           "y": {"field": "value", "type": "quantitative", "scale": {"domain": [0.12, 0.44], "nice": false, "zero": false},
                 "axis": {"values": [0.2, 0.3, 0.4], "format": ".1f", "labelFontSize": 13, "labelPadding": 12, "title": "Dilation velocity (mm/s)", "titleFontSize": 13.5, "titlePadding": 1}},
           "y2": {"datum": 0.12},
           "color": {"field": "contrast", "type": "nominal", "scale": {"domain": ["High", "Low"], "range": ["#4d4d4d", "#c6c6c6"]}, "legend": null}
         }},
        {"data": {"name": "velocity"}, "mark": {"type": "rule", "color": "#111", "strokeWidth": 1.5},
         "encoding": {"x": {"field": "metric", "type": "nominal"}, "xOffset": {"field": "contrast", "type": "nominal"}, "y": {"field": "lo", "type": "quantitative"}, "y2": {"field": "hi"}}},
        {"data": {"name": "velLegs"}, "mark": {"type": "rule", "color": "#aaaaaa", "strokeWidth": 1.5},
         "encoding": {"x": {"field": "metric", "type": "nominal"}, "xOffset": {"field": "contrast", "type": "nominal"}, "y": {"field": "y1", "type": "quantitative"}, "y2": {"field": "y2"}}},
        {"data": {"name": "velTops"}, "mark": {"type": "tick", "orient": "horizontal", "color": "#aaaaaa", "thickness": 1.5, "size": 45.5, "opacity": 1},
         "encoding": {"x": {"field": "metric", "type": "nominal"}, "y": {"field": "y", "type": "quantitative"}}},
        {"data": {"name": "velTops"}, "mark": {"type": "text", "text": "*", "fontSize": 13, "color": "#111", "baseline": "alphabetic", "align": "center"},
         "encoding": {"x": {"field": "metric", "type": "nominal"}, "y": {"field": "star", "type": "quantitative"}}},
        {"data": {"values": [{}]}, "mark": {"type": "text", "text": "F", "fontSize": 19, "fontWeight": "bold", "align": "left", "baseline": "alphabetic", "color": "#111", "dx": -75},
         "encoding": {"x": {"datum": "Mean Velocity"}, "y": {"datum": 0.426}}},
        {"data": {"values": [{}]}, "mark": {"type": "text", "text": "Monkey U+D", "fontSize": 11, "align": "left", "baseline": "alphabetic", "color": "#111", "dx": 14},
         "encoding": {"x": {"datum": "Mean Velocity"}, "y": {"datum": 0.394}}},
        {"data": {"values": [{}]}, "mark": {"type": "text", "text": "High", "fontSize": 14.5, "align": "left", "baseline": "alphabetic", "color": "#1a1a1a", "dx": 47},
         "encoding": {"x": {"datum": "Mean Velocity"}, "y": {"datum": 0.342}}},
        {"data": {"values": [{}]}, "mark": {"type": "text", "text": "Low", "fontSize": 14.5, "align": "left", "baseline": "alphabetic", "color": "#a8a8a8", "dx": 47},
         "encoding": {"x": {"datum": "Mean Velocity"}, "y": {"datum": 0.314}}}
      ]
    }
  ]
}
